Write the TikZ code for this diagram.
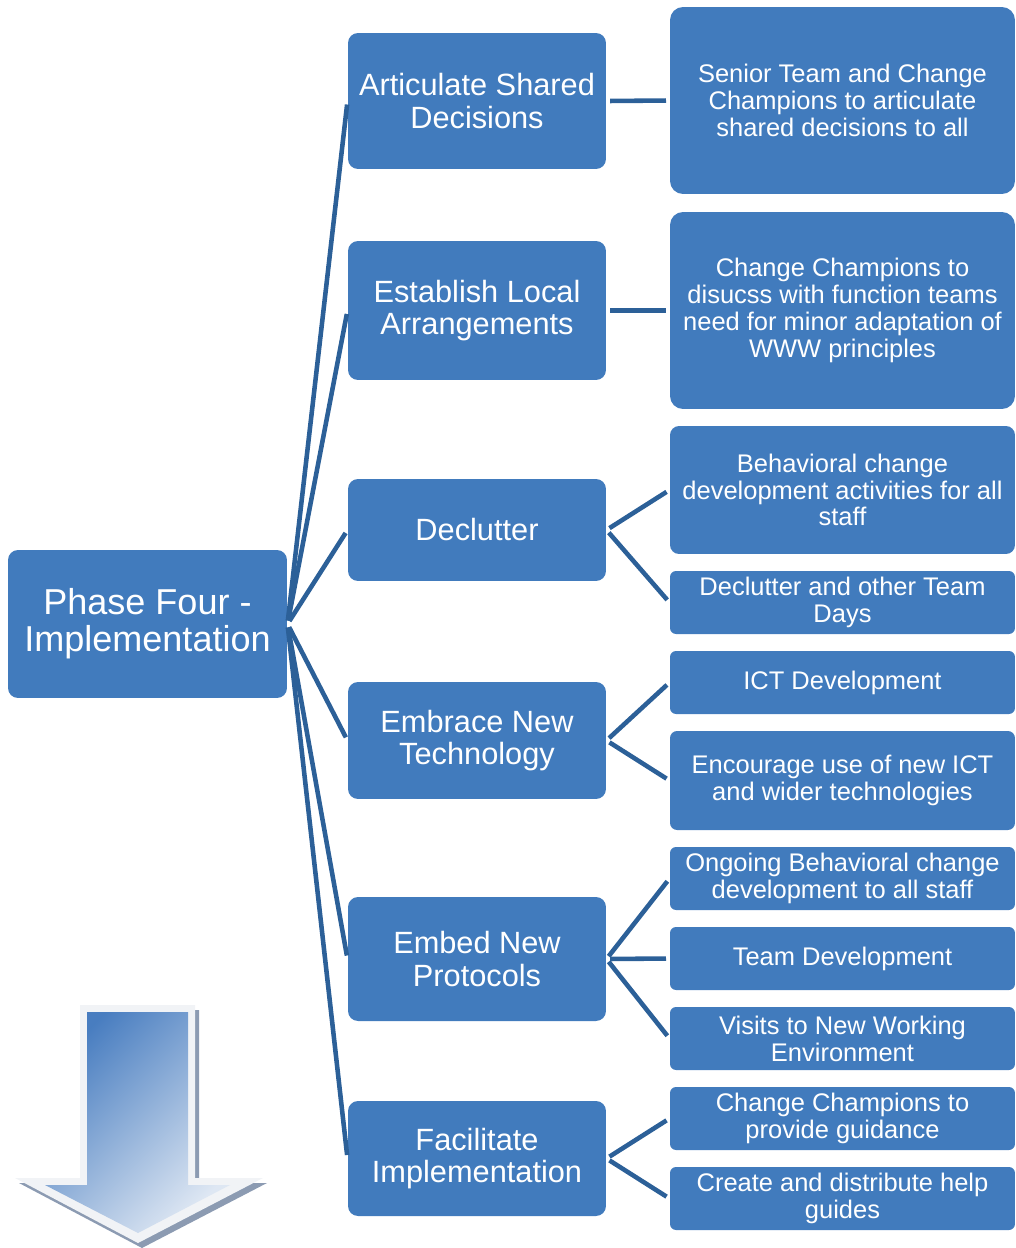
\documentclass[tikz,border=0pt]{standalone}
\usepackage{fontspec}
\setmainfont{Liberation Sans}
\usetikzlibrary{positioning,calc}
\definecolor{boxblue}{RGB}{65,123,189}
\definecolor{linkblue}{RGB}{44,96,152}
\definecolor{arrowrim}{RGB}{241,243,246}
\definecolor{arrowshadow}{RGB}{140,155,178}
\definecolor{arrowtop}{RGB}{72,125,192}
\definecolor{arrowbot}{RGB}{222,231,243}

\begin{document}
\begin{tikzpicture}[x=0.02cm, y=-0.02cm, semithick]
\tikzstyle{box}=[fill=boxblue, text=white, align=center, inner sep=0pt, rounded corners=0.2cm]
\tikzstyle{mainbox}=[box, minimum width=5.58cm, minimum height=2.96cm, font=\fontsize{20.5}{21}\selectfont]
\tikzstyle{stepbox}=[box, minimum width=5.16cm, font=\fontsize{17.5}{18.7}\selectfont]
\tikzstyle{leafbox}=[box, minimum width=6.9cm, font=\fontsize{14.5}{15.3}\selectfont]
\tikzstyle{smallleaf}=[leafbox, minimum height=1.26cm, rounded corners=0.12cm]
\tikzstyle{link}=[draw=linkblue, line width=2.6pt, shorten <=2pt, shorten >=2pt]
\useasboundingbox (0,0) rectangle (1015,1248);

% phase and its steps
\node[mainbox]                         (ph)  at (147.5,624)  {Phase Four -\\Implementation};
\node[stepbox, minimum height=2.72cm]  (asd) at (477,101)    {Articulate Shared\\Decisions};
\node[stepbox, minimum height=2.78cm]  (ela) at (477,310.5)  {Establish Local\\Arrangements};
\node[stepbox, minimum height=2.04cm]  (dc)  at (477,530)    {Declutter};
\node[stepbox, minimum height=2.34cm]  (ent) at (477,740.5)  {Embrace New\\Technology};
\node[stepbox, minimum height=2.48cm]  (enp) at (477,959)    {Embed New\\Protocols};
\node[stepbox, minimum height=2.3cm]   (fi)  at (477,1158.5) {Facilitate\\Implementation};

% actions
\node[leafbox, minimum height=3.74cm, rounded corners=0.26cm] (st)  at (842.5,100.5) {Senior Team and Change\\Champions to articulate\\shared decisions to all};
\node[leafbox, minimum height=3.94cm, rounded corners=0.26cm] (cc)  at (842.5,310.5) {Change Champions to\\disucss with function teams\\need for minor adaptation of\\WWW principles};
\node[leafbox, minimum height=2.56cm, rounded corners=0.18cm] (bc)  at (842.5,490)   {Behavioral change\\development activities for all\\staff};
\node[smallleaf] (dt)  at (842.5,602.5)  {Declutter and other Team\\Days};
\node[smallleaf] (ict) at (842.5,682.5)  {ICT Development};
\node[leafbox, minimum height=1.98cm, rounded corners=0.14cm] (enc) at (842.5,780.5) {Encourage use of new ICT\\and wider technologies};
\node[smallleaf] (ob)  at (842.5,878.5)  {Ongoing Behavioral change\\development to all staff};
\node[smallleaf] (td)  at (842.5,958.5)  {Team Development};
\node[smallleaf] (vw)  at (842.5,1038.5) {Visits to New Working\\Environment};
\node[smallleaf] (pg)  at (842.5,1118.5) {Change Champions to\\provide guidance};
\node[smallleaf] (hg)  at (842.5,1198.5) {Create and distribute help\\guides};

\path[link]
 (ph.east) edge (asd.west)
           edge (ela.west)
           edge (dc.west)
           edge (ent.west)
           edge (enp.west)
           edge (fi.west)

 (asd.east) edge (st.west)
 (ela.east) edge (cc.west)
 (dc.east)  edge (bc.west)
            edge (dt.west)
 (ent.east) edge (ict.west)
            edge (enc.west)
 (enp.east) edge (ob.west)
            edge (td.west)
            edge (vw.west)
 (fi.east)  edge (pg.west)
            edge (hg.west);

% down arrow
\fill[arrowshadow, shift={(4,5)}] (80,1005) -- (195,1005) -- (195,1178) -- (263,1178) -- (138,1243) -- (15,1178) -- (80,1178) -- cycle;
\fill[arrowrim] (80,1005) -- (195,1005) -- (195,1178) -- (263,1178) -- (138,1243) -- (15,1178) -- (80,1178) -- cycle;
\shade[top color=arrowtop, bottom color=arrowbot, shading angle=45]
 (87,1012) -- (188,1012) -- (188,1185) -- (230,1185) -- (138,1233) -- (45,1185) -- (87,1185) -- cycle;
\end{tikzpicture}
\end{document}
